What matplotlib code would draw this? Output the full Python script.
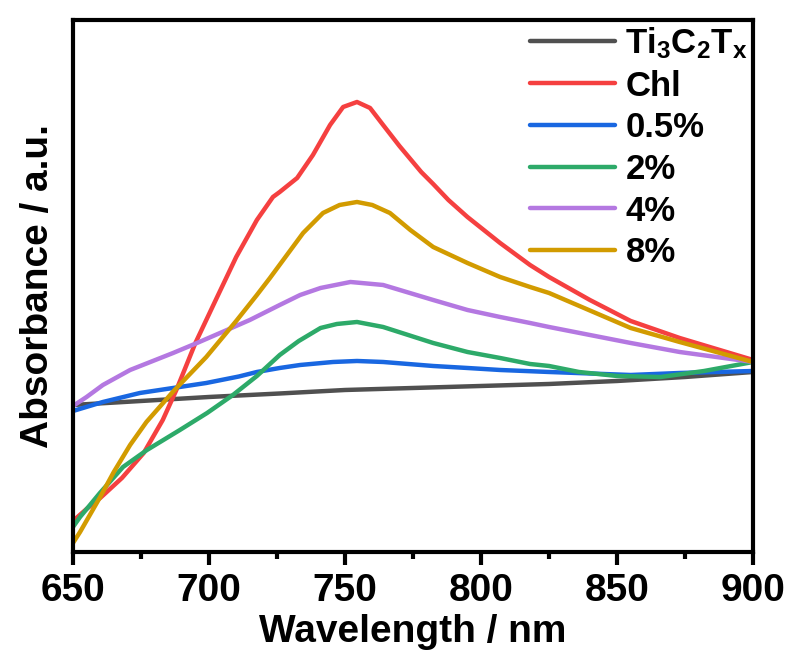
import matplotlib
matplotlib.use("Agg")
import matplotlib.pyplot as plt
from matplotlib.ticker import MultipleLocator

plt.rcParams['font.family'] = ['Liberation Sans', 'DejaVu Sans']
plt.rcParams['font.weight'] = 'bold'
plt.rcParams['mathtext.fontset'] = 'custom'
plt.rcParams['mathtext.rm'] = 'Liberation Sans:bold'
plt.rcParams['mathtext.it'] = 'Liberation Sans:bold'
plt.rcParams['mathtext.bf'] = 'Liberation Sans:bold'
plt.rcParams['mathtext.default'] = 'rm'

# --- datos (absorbancia en unidades arbitrarias) ---
wl_ti = [650, 675, 700, 726, 750, 800, 825, 850, 875, 900]
abs_ti = [1.47, 1.51, 1.55, 1.585, 1.62, 1.66, 1.68, 1.71, 1.75, 1.80]

wl_chl = [650, 655, 660, 668, 676, 683, 688, 695, 703, 710, 717.6, 723.5, 726,
          732.4, 738.2, 744.5, 749.3, 754.4, 759.2, 764, 770, 774, 778, 782.4,
          788, 795, 807, 818, 825, 840, 855, 873, 900]
abs_chl = [0.31, 0.43, 0.54, 0.74, 0.99, 1.32, 1.62, 2.09, 2.55, 2.95, 3.32, 3.55, 3.60,
           3.74, 3.97, 4.27, 4.45, 4.50, 4.44, 4.27, 4.06, 3.93, 3.80, 3.68,
           3.52, 3.35, 3.09, 2.87, 2.75, 2.52, 2.31, 2.14, 1.92]

wl_05 = [650, 661, 674.6, 686.8, 699, 711, 717.6, 726, 733.5, 745.6, 754.4, 764,
         782.4, 795, 807, 825, 855, 873, 900]
abs_05 = [1.41, 1.50, 1.59, 1.64, 1.69, 1.755, 1.80, 1.84, 1.87, 1.90, 1.91, 1.90,
          1.86, 1.84, 1.82, 1.80, 1.77, 1.79, 1.81]

wl_2 = [650, 652.6, 659.9, 668.4, 677.2, 689.3, 699.3, 708.8, 717.6, 726, 733,
        741, 747, 754.4, 764, 782.4, 795, 807, 818, 825, 836, 850, 866, 882, 900]
abs_2 = [0.25, 0.35, 0.59, 0.85, 1.02, 1.22, 1.39, 1.57, 1.76, 1.97, 2.11,
         2.24, 2.28, 2.30, 2.25, 2.09, 2.00, 1.94, 1.88, 1.86, 1.80, 1.76, 1.75, 1.81, 1.90]

wl_4 = [650, 655, 661, 671, 686.8, 695.6, 706.6, 715, 726, 733.5, 741, 752, 764,
        782.4, 795, 807, 818, 825, 855, 873, 900]
abs_4 = [1.46, 1.55, 1.67, 1.82, 1.99, 2.09, 2.22, 2.32, 2.47, 2.57, 2.64, 2.70, 2.67,
         2.52, 2.42, 2.35, 2.29, 2.25, 2.09, 2.00, 1.90]

wl_8 = [650, 652.6, 660, 665, 671, 677, 687, 699, 710, 717.6, 722.4, 734.6, 741.9,
        748, 754.4, 760, 766.5, 774, 782.4, 795, 807, 818, 825, 855, 873, 900]
abs_8 = [0.09, 0.20, 0.55, 0.80, 1.07, 1.30, 1.61, 1.95, 2.31, 2.57, 2.74, 3.19, 3.39,
         3.47, 3.50, 3.47, 3.39, 3.22, 3.05, 2.89, 2.75, 2.65, 2.59, 2.24, 2.10, 1.90]

series = [
    (wl_ti, abs_ti, r'Ti$_3$C$_2$T$_x$', '#505050'),
    (wl_chl, abs_chl, 'Chl', '#F54040'),
    (wl_05, abs_05, '0.5%', '#1967E1'),
    (wl_2, abs_2, '2%', '#2DAA69'),
    (wl_4, abs_4, '4%', '#B478E1'),
    (wl_8, abs_8, '8%', '#D29B00'),
]

fig = plt.figure(figsize=(7.89, 6.64), dpi=100)
ax = fig.add_axes([0.0925, 0.1687, 0.862, 0.8012])

for x, y, lab, c in series:
    ax.plot(x, y, color=c, lw=3.2, label=lab,
            solid_capstyle='round', solid_joinstyle='round')

ax.set_xlim(650, 900)
ax.set_ylim(0, 5.32)
ax.xaxis.set_major_locator(MultipleLocator(50))
ax.xaxis.set_minor_locator(MultipleLocator(25))
ax.set_yticks([])

for s in ax.spines.values():
    s.set_linewidth(3)
ax.tick_params(axis='x', which='major', direction='out', length=9, width=3,
               labelsize=28, pad=6)
ax.tick_params(axis='x', which='minor', direction='out', length=5, width=3)
for t in ax.get_xticklabels():
    t.set_fontweight('bold')

ax.set_xlabel('Wavelength / nm', fontsize=28, fontweight='bold', labelpad=4)
ax.set_ylabel('Absorbance / a.u.', fontsize=28, fontweight='bold', labelpad=12)

leg = ax.legend(loc='upper right', frameon=False, fontsize=25,
                handlelength=2.45, handletextpad=0.3, labelspacing=0.25,
                borderaxespad=0.0, borderpad=0.15)
for line in leg.get_lines():
    line.set_linewidth(3.2)

fig.savefig('out.png', dpi=100)
